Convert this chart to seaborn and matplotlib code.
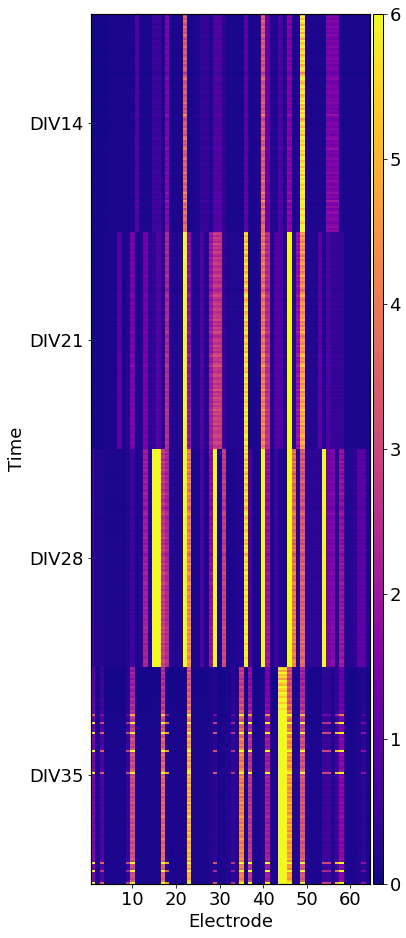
import numpy as np
import seaborn as sns
import matplotlib
matplotlib.use('Agg')
import matplotlib.pyplot as plt

# mean level of each electrode (1-64) per recording day
# values above 6 are saturated in the original
div14_levels = [.08, .08, .08, .08, .12, .12, .12, .12, .12, .15,
                .8, .12, .12, .15, .5, .5, .2, 1.5, .12, .12,
                .12, 3.5, .12, .12, .2, .4, .4, .2, .8, .8,
                .3, .12, .12, .12, .12, .9, .12, .12, .2, 3.4,
                1.1, .2, .2, .7, .2, 1.5, .12, .2, 5.8, .2,
                .15, .15, .15, .15, 1.5, 1.5, 1.5, .15, .12, .12,
                .12, .12, .12, .12]
div21_levels = [.08, .08, .08, .12, .12, .12, .85, .12, .2, 1.4,
                .15, .15, 1.3, .3, .4, .8, .3, 2.3, .2, .2,
                .2, 8, 1.8, .2, .2, .8, .2, 2.0, 2.7, 2.6,
                .4, .2, .2, .2, .2, 5.4, .12, .12, .2, 3.9,
                2.4, .2, .8, .8, .2, 8, .3, 1.8, 4.5, .2,
                .2, .2, .9, .2, .7, .4, .4, .4, .12, .12,
                .12, .12, .12, .12]
div28_levels = [.4, .2, .2, .15, .15, .15, .15, .12, .2, .5,
                .15, .2, 2.0, .2, 8, 8, 2.6, 2.2, .2, .2,
                .2, 8, 4.0, .12, .12, .7, .12, 1.7, 8, .12,
                2.7, .12, .12, .2, .2, 5.5, .7, .12, .12, 8,
                1.8, .12, .5, .2, .12, 8, 3.7, .2, 3.3, .3,
                .3, .3, .3, 8, 1.3, 1.5, .2, 1.8, .2, .2,
                .3, .9, .9, .2]
div35_levels = [1.5, .2, .7, .12, .12, .12, .12, .12, .4, 3.0,
                .12, .12, .12, .12, .12, .15, 3.5, .2, .12, .12,
                .12, .15, 4.8, .12, .15, .15, .12, .2, .3, .12,
                .12, .2, .4, .2, 4.0, .12, 2.5, .12, .12, .2,
                2.0, .12, .12, 8, 8, 4.5, .2, .2, 3.2, .2,
                .15, .15, .15, .5, .5, .2, .5, 1.6, .2, .12,
                .12, .2, .3, .12]

# row by row brightness of each block, in percent of the levels above
div14_rows = [92, 104, 88, 110, 96, 84, 108, 92, 100, 86, 112, 94, 82, 104, 90, 98, 108, 88, 94, 102,
              86, 96, 110, 90, 100, 84, 94, 106, 92, 72, 88, 100, 114, 92, 84, 96, 104, 90, 98, 108,
              86, 92, 102, 94, 110, 88, 96, 84, 104, 92, 128, 98, 80, 90, 104, 96, 88, 110, 94, 100,
              86, 108, 118, 92, 100, 90, 106, 122, 94, 100, 88, 104, 112, 92, 98, 108, 90, 102, 96, 116,
              88, 104, 94, 120, 100, 92, 110, 96, 104, 126, 98, 112, 92, 136, 106, 98, 118, 90, 108, 122,
              96, 104, 114, 100, 92, 110, 118, 104, 112]
div21_rows = [96, 108, 90, 104, 98, 86, 112, 94, 102, 88, 110, 96, 84, 106, 92, 100, 112, 90, 96, 104,
              88, 98, 114, 92, 102, 86, 96, 108, 94, 80, 92, 104, 116, 96, 88, 100, 106, 92, 102, 110,
              90, 96, 106, 98, 114, 90, 100, 86, 108, 96, 118, 102, 84, 94, 108, 100, 92, 114, 98, 104,
              90, 112, 122, 96, 104, 94, 110, 126, 98, 104, 92, 108, 116, 96, 102, 112, 94, 106, 100, 120,
              92, 108, 98, 118, 104, 96, 114, 100, 108, 122, 102, 116, 96, 112, 110, 102, 118, 94, 112, 106,
              100, 108, 116, 104, 96, 114, 110, 94, 108]
div28_rows = [98, 110, 92, 106, 100, 88, 114, 96, 104, 90, 112, 98, 86, 108, 94, 102, 114, 92, 98, 106,
              90, 100, 116, 94, 104, 88, 98, 110, 96, 84, 94, 106, 118, 98, 90, 102, 108, 94, 104, 112,
              92, 98, 108, 100, 116, 92, 102, 88, 110, 98, 112, 104, 86, 96, 110, 102, 94, 116, 100, 106,
              92, 114, 118, 98, 106, 96, 112, 120, 100, 106, 94, 110, 114, 98, 104, 114, 96, 108, 102, 118,
              94, 110, 100, 114, 106, 98, 116, 102, 110, 120, 104, 118, 98, 112, 112, 104, 120, 96, 114, 108,
              102, 110, 118, 106, 98, 116, 120, 108, 114]
div35_rows = [66, 72, 60, 76, 64, 70, 58, 74, 68, 62, 80, 70, 64, 78, 72, 66, 84, 74, 68, 88,
              76, 70, 92, 80, 74, 96, 84, 78, 102, 88, 82, 98, 90, 106, 94, 86, 112, 98, 92, 104,
              88, 110, 100, 94, 116, 96, 104, 90, 112, 100, 94, 108, 118, 102, 92, 110, 98, 106, 90, 114,
              100, 94, 108, 96, 112, 88, 104, 98, 116, 92, 106, 100, 112, 94, 108, 120, 98, 104, 92, 114,
              100, 108, 94, 112, 102, 96, 118, 104, 92, 110, 100, 106, 114, 96, 108, 102, 116, 94, 110, 100,
              106, 92, 112, 98, 108, 104, 96, 114, 104]

# short bursts that show up across many electrodes in DIV35
burst_rows = [24, 28, 33, 42, 53, 98, 102, 108]
burst_strength = [.4, .8, 1, 1, 1, 1, .7, 1]
burst_levels = [6, 0, 2.8, 0, 0, 0, 0, 0, 2.5, 7,
                0, 0, 0, 0, 0, 0, 7, 4.5, 0, 0,
                0, 0, 7, 0, 0, 0, 0, 0, 3, 0,
                0, 0, 2.2, 0, 7, 0, 7, 0, 0, 0,
                7, 0, 0, 7, 7, 7, 0, 0, 7, 0,
                0, 0, 0, 2.5, 2.5, 0, 4.5, 7, 0, 0,
                0, 0, 1.5, 0]

day_labels = ['DIV14', 'DIV21', 'DIV28', 'DIV35']
electrode_ticks = [10, 20, 30, 40, 50, 60]
colorbar_ticks = [0, 1, 2, 3, 4, 5, 6]

# build the matrix, one block per day
blocks = []
for levels, rows in zip([div14_levels, div21_levels, div28_levels, div35_levels],
                        [div14_rows, div21_rows, div28_rows, div35_rows]):
    blocks.append(np.outer(np.array(rows) / 100, levels))
for r, s in zip(burst_rows, burst_strength):
    blocks[3][r] += s * np.array(burst_levels)
matrix = np.vstack(blocks)
rows_per_block = len(div14_rows)

fig = plt.figure(figsize=(406 / 72, 938 / 72), dpi=72)
ax = fig.add_axes([91 / 406, 54 / 938, 279 / 406, 870 / 938])
cax = fig.add_axes([373 / 406, 54 / 938, 9.5 / 406, 870 / 938])

sns.heatmap(matrix, ax=ax, cbar_ax=cax, cmap='plasma', vmin=0, vmax=6,
            xticklabels=False, yticklabels=False)

ax.set_xticks([e - 0.5 for e in electrode_ticks])
ax.set_xticklabels(electrode_ticks, fontsize=18, rotation=0)
ax.set_yticks([rows_per_block * (i + 0.5) for i in range(4)])
ax.set_yticklabels(day_labels, fontsize=18, rotation=0)
ax.set_xlabel('Electrode', fontsize=18)
ax.set_ylabel('Time', fontsize=18)
for spine in ax.spines.values():
    spine.set_visible(True)
    spine.set_linewidth(1.2)

cbar = ax.collections[0].colorbar
cbar.set_ticks(colorbar_ticks)
cbar.ax.tick_params(labelsize=18)
cbar.outline.set_visible(True)
cbar.outline.set_edgecolor('black')
cbar.outline.set_linewidth(1.0)

fig.savefig('out.png', dpi=72)
